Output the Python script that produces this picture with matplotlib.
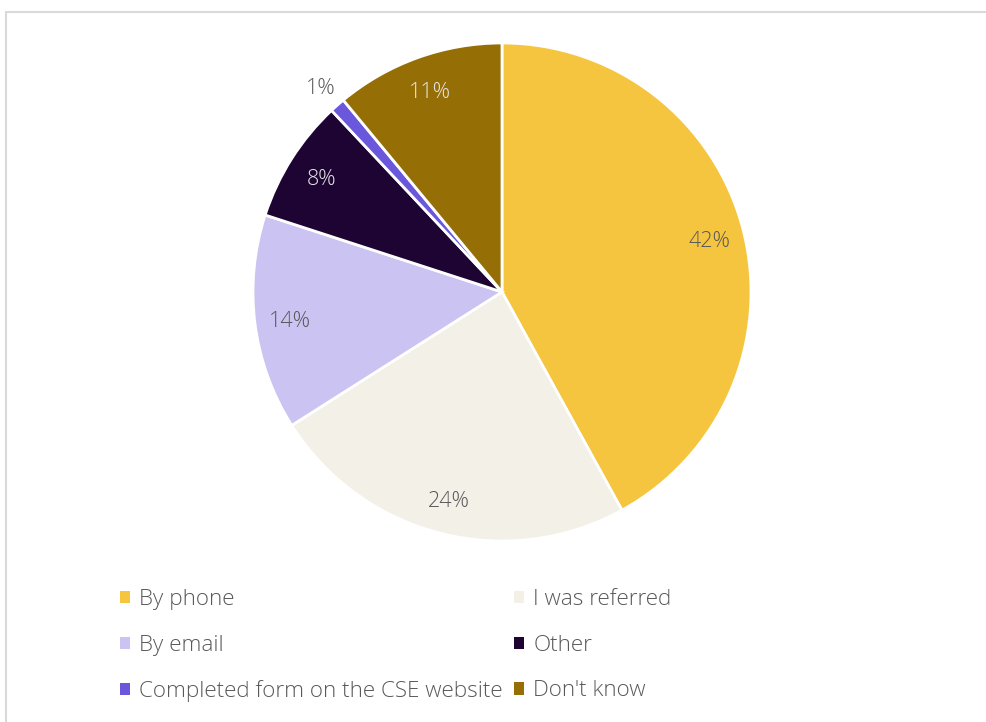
import matplotlib.pyplot as plt
from matplotlib.patches import Patch, Rectangle

plt.rcParams['font.family'] = ['Open Sans', 'DejaVu Sans']
plt.rcParams['font.weight'] = 'light'

labels = ["By phone", "I was referred", "By email", "Other",
          "Completed form on the CSE website", "Don't know"]
shares = [42, 24, 14, 8, 1, 11]
colors = ["#F6C540", "#F3F0E8", "#CBC4F2", "#1E0433", "#6B57DB", "#956E05"]
text_colors = ["#595959", "#595959", "#595959", "#E6E6E6", "#595959", "#E6E6E6"]

fig = plt.figure(figsize=(9.87, 7.22), dpi=100)
ax = fig.add_axes([0.2563, 0.2507, 0.5046, 0.6898])

wedges, texts, autotexts = ax.pie(
    shares, colors=colors, startangle=90, counterclock=False,
    autopct="%d%%", pctdistance=0.86,
    wedgeprops=dict(edgecolor="white", linewidth=2),
    textprops=dict(fontsize=15.5),
)
for t, c in zip(autotexts, text_colors):
    t.set_color(c)
    t.set_va("center_baseline")
# small slice label sits outside
x1, y1 = autotexts[4].get_position()
autotexts[4].set_position((x1 * 1.28, y1 * 1.28))
ax.set_xlim(-1, 1)
ax.set_ylim(-1, 1)
ax.set_aspect("equal")

# legend, filled row by row
order = [0, 2, 4, 1, 3, 5]
handles = [Patch(facecolor=colors[i], edgecolor="none") for i in order]
leg = fig.legend(handles, [labels[i] for i in order], ncol=2,
                 loc="upper left", bbox_to_anchor=(0.1125, 0.1967),
                 frameon=False, fontsize=16.2, labelcolor="#595959",
                 handlelength=0.45, handleheight=0.45, handletextpad=0.4,
                 columnspacing=0.5, labelspacing=1.1, borderaxespad=0)

# chart frame
fig.add_artist(Rectangle((6 / 987, -0.05), 1.1, 1 - 12 / 722 + 0.05,
                         transform=fig.transFigure, fill=False,
                         edgecolor="#D9D9D9", linewidth=1.5))

fig.savefig("out.png", dpi=100)
